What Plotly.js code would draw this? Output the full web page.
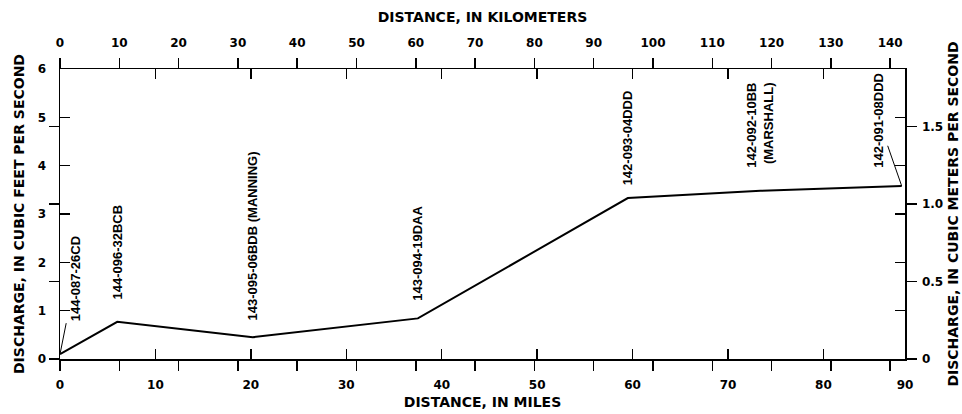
<!DOCTYPE html>
<html>
<head>
<meta charset="utf-8">
<script src="https://cdn.plot.ly/plotly-3.0.1.min.js"></script>
<style>html,body{margin:0;padding:0;background:#fff}#chart{width:962px;height:414px}</style>
</head>
<body>
<div id="chart"></div>
<script>
// ---- data ----
const stationMiles = [0, 6.0, 20.2, 37.5, 59.5, 73.4, 88.2];
const dischargeCfs = [0.1, 0.77, 0.45, 0.84, 3.33, 3.48, 3.58];
const stationLabels = ['144-087-26CD', '144-096-32BCB', '143-095-06BDB (MANNING)', '143-094-19DAA',
                       '142-093-04DDD', '142-092-10BB<br>(MARSHALL)', '142-091-08DDD'];
const mileTickText = ['0', '10', '20', '30', '40', '50', '60', '70', '80', '90'];
const mileTicks = [0, 10, 20, 30, 40, 50, 60, 70, 80];
const kmTicks = [0, 10, 20, 30, 40, 50, 60, 70, 80, 90, 100, 110, 120, 130, 140];
const cfsTicks = [0, 1, 2, 3, 4, 5, 6];
const cmsTicks = [0, 0.5, 1.0, 1.5];
const cmsTickText = ['0', '0.5', '1.0', '1.5'];

// ---- scales ----
const KM_PER_MILE = 1.609344;
const kmMax = 142.5;
const mileMax = kmMax / KM_PER_MILE;
const cfsMax = 6;
const cmsMax = 1.87;

// ---- styles ----
const tickFont = {family: 'DejaVu Sans', size: 12, color: '#000', weight: 'bold'};
const titleFont = {family: 'DejaVu Sans', size: 14, color: '#000', weight: 'bold'};
const labelFont = {family: 'Liberation Sans, Arial', size: 13, color: '#000', weight: 'bold'};
const labelGap = [0, 20, 15, 16, 11, 21, 0];

const axisCommon = {
  showgrid: false, zeroline: false, showline: true, linecolor: '#000', linewidth: 1.5,
  tickcolor: '#000', tickwidth: 1.5, ticklen: 10, mirror: 'ticks', tickmode: 'array',
  tickfont: tickFont, fixedrange: true
};

const annotations = stationLabels.map((t, i) => {
  const a = {
    x: stationMiles[i], y: dischargeCfs[i], xref: 'x', yref: 'y',
    text: t, textangle: -90, font: labelFont, align: 'right'
  };
  if (i === 0) {
    Object.assign(a, {showarrow: true, arrowhead: 0, arrowwidth: 1, arrowcolor: '#000', ax: 15, ay: -75, standoff: 0});
  } else if (i === stationLabels.length - 1) {
    Object.assign(a, {showarrow: true, arrowhead: 0, arrowwidth: 1, arrowcolor: '#000', ax: -23, ay: -66, standoff: 0});
  } else {
    Object.assign(a, {showarrow: false, xanchor: 'center', yanchor: 'bottom', yshift: labelGap[i]});
  }
  return a;
});

const trace = {
  x: stationMiles, y: dischargeCfs, xaxis: 'x', yaxis: 'y',
  type: 'scatter', mode: 'lines', line: {color: '#000', width: 2}, hoverinfo: 'skip'
};
// empty traces so that the kilometre and cubic-metre axes get drawn
const kmAxisHolder = {x: [], y: [], xaxis: 'x2', yaxis: 'y', type: 'scatter', mode: 'lines', hoverinfo: 'skip'};
const cmsAxisHolder = {x: [], y: [], xaxis: 'x', yaxis: 'y2', type: 'scatter', mode: 'lines', hoverinfo: 'skip'};

const layout = {
  width: 962, height: 414,
  margin: {l: 60, r: 57, t: 69, b: 55},
  paper_bgcolor: '#fff', plot_bgcolor: '#fff', showlegend: false,
  xaxis: Object.assign({}, axisCommon, {
    range: [0, mileMax], tickvals: mileTicks.concat([mileMax]), ticktext: mileTickText,
    ticks: 'inside', ticklabelstandoff: 14,
    title: {text: 'DISTANCE, IN MILES', font: titleFont, standoff: 6}
  }),
  xaxis2: Object.assign({}, axisCommon, {
    overlaying: 'x', side: 'top', anchor: 'y', range: [0, kmMax], tickvals: kmTicks,
    ticks: 'outside', ticklabelstandoff: 6,
    title: {text: 'DISTANCE, IN KILOMETERS', font: titleFont, standoff: 10}
  }),
  yaxis: Object.assign({}, axisCommon, {
    range: [0, cfsMax], tickvals: cfsTicks, ticks: 'inside', ticklabelstandoff: 10,
    title: {text: 'DISCHARGE, IN CUBIC FEET PER SECOND', font: titleFont, standoff: 10}
  }),
  yaxis2: Object.assign({}, axisCommon, {
    overlaying: 'y', side: 'right', anchor: 'x', range: [0, cmsMax], tickvals: cmsTicks, ticktext: cmsTickText,
    ticks: 'outside', ticklabelstandoff: 3,
    title: {text: 'DISCHARGE, IN CUBIC METERS PER SECOND', font: titleFont, standoff: 6}
  }),
  annotations: annotations
};

Plotly.newPlot('chart', [trace, kmAxisHolder, cmsAxisHolder], layout, {displayModeBar: false, staticPlot: true});
</script>
</body>
</html>
